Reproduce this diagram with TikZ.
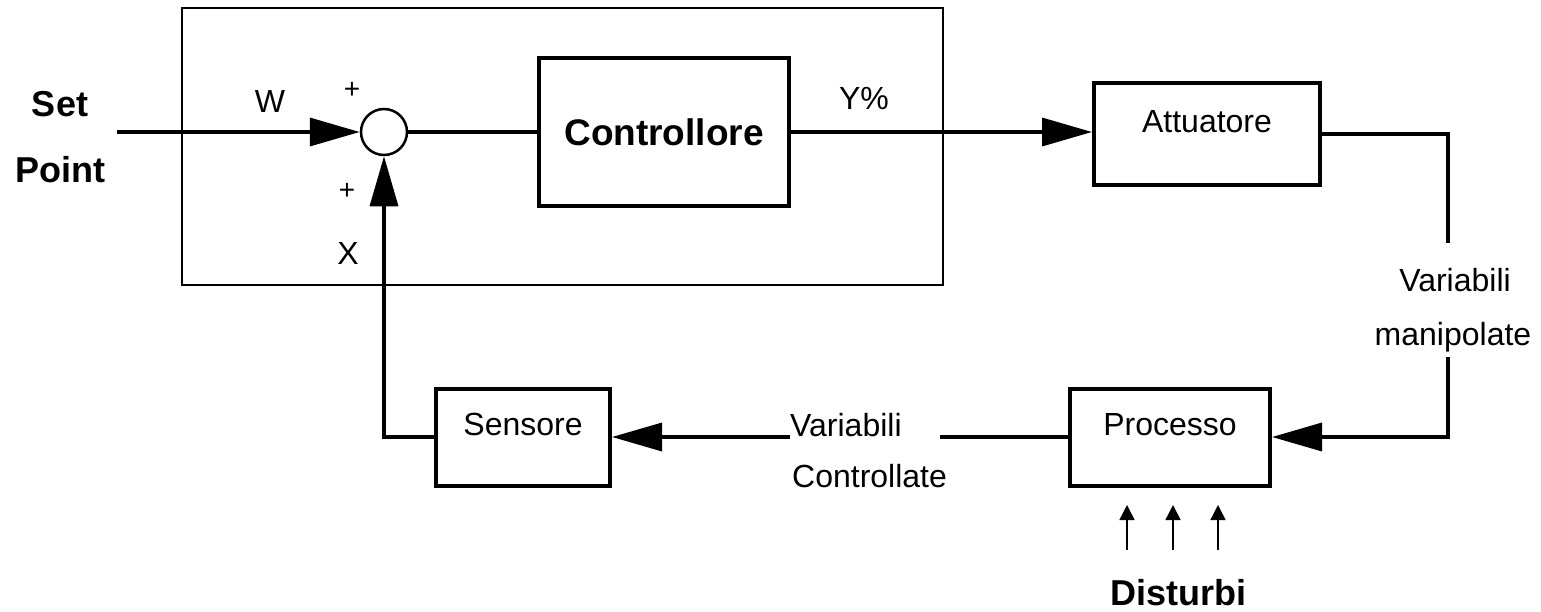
\documentclass[tikz,border=0pt]{standalone}
\usepackage{fontspec}
\setmainfont{Liberation Sans}
\usetikzlibrary{arrows.meta,positioning}

\begin{document}
\begin{tikzpicture}[x=1pt, y=-1pt,
  blk/.style={draw, line width=4pt, font=\fontsize{32}{38}\selectfont, text height=25pt, text depth=28pt, inner sep=0pt},
  sig/.style={line width=3.5pt},
  big/.style={-{Triangle[length=50pt,width=28pt]}},
  lbl/.style={font=\fontsize{32}{38}\selectfont, inner sep=0pt},
  bold/.style={font=\fontsize{36}{40}\selectfont\bfseries, inner sep=0pt},
  sgn/.style={font=\fontsize{28}{30}\selectfont, inner sep=0pt},
  darr/.style={line width=1.5pt, -{Triangle[length=15pt,width=15pt]}}]

\useasboundingbox (0,0) rectangle (1541,611);
% controller unit
\draw[line width=2pt] (182,8) rectangle (943,285);

% blocks
\node[circle, draw, line width=2.5pt, minimum size=46pt, inner sep=0pt] (sum) at (384,132) {};
\node[draw, line width=4pt, minimum width=250pt, minimum height=148pt, inner sep=0pt, font=\fontsize{37}{40}\selectfont\bfseries] (ctrl) at (664,132) {Controllore};
\node[blk, minimum width=226pt, minimum height=102pt] (att) at (1207,134) {Attuatore};
\node[blk, minimum width=200pt, minimum height=97pt] (proc) at (1170,437) {Processo};
\node[blk, minimum width=174pt, minimum height=97pt] (sens) at (523,437) {Sensore};

% free ends
\coordinate (sp) at (117,132);
\coordinate (mtop) at (1448,243);
\coordinate (mbot) at (1448,357);
\coordinate (cl) at (790,437);
\coordinate (cr) at (940,437);

% signals
\draw[sig,big] (sp) -- (sum.west);
\draw[sig] (sum.east) -- (ctrl.west);
\draw[sig,big] (ctrl.east) -- (ctrl.east -| att.west);
\draw[sig] (att.east) -| (mtop);
\draw[sig,big] (mbot) |- (proc.east);
\draw[sig] (proc.west) -- (cr);
\draw[sig,big] (cl) -- (sens.east);
\draw[sig,big] (sens.west) -| (sum.south);

% labels
\node[bold, anchor=base] (set) at (60,116) {Set};
\node[bold, anchor=base] (point) at (60,182) {Point};
\node[lbl, anchor=base] (w) at (270,112) {W};
\node[sgn] (plusw) at (352,90) {+};
\node[sgn] (plusx) at (347,191) {+};
\node[lbl, anchor=base] (x) at (348,264) {X};
\node[lbl, anchor=base] (y) at (864,109) {Y\%};
\node[lbl, anchor=base] (vm) at (1455,291) {Variabili};
\node[lbl, anchor=base] (man) at (1453,345) {manipolate};
\node[lbl, anchor=base west] (vc) at (790,436) {Variabili};
\node[lbl, anchor=base west] (contr) at (792,487) {Controllate};
\node[bold, anchor=base] (disturbi) at (1178,605) {Disturbi};

% disturbances
\foreach \i/\x in {1/1127,2/1173,3/1218} {
  \coordinate (d\i) at (\x,550);
  \draw[darr] (d\i) -- ++(0,-45);
}
\end{tikzpicture}
\end{document}
